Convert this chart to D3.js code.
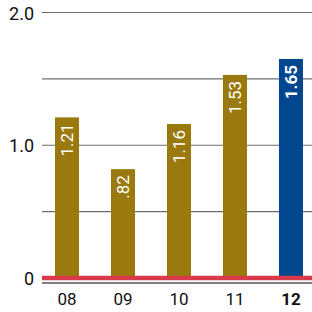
<!DOCTYPE html>
<html>
<head>
<meta charset="utf-8">
<script src="https://cdn.jsdelivr.net/npm/d3@7"></script>
<style>
  body { margin: 0; background: #fff; }
  text { font-family: Roboto, "Liberation Sans", Arial, sans-serif; }
</style>
</head>
<body>
<div id="chart"></div>
<script>
var years = ["08", "09", "10", "11", "12"];
var values = [1.21, 0.82, 1.16, 1.53, 1.65];
var valueLabels = ["1.21", ".82", "1.16", "1.53", "1.65"];
var yTicks = [0, 1, 2];
var yTickLabels = ["0", "1.0", "2.0"];
var gridValues = [0.5, 1, 1.5, 2];

var width = 312, height = 312;

var svg = d3.select("#chart").append("svg")
  .attr("width", width)
  .attr("height", height);

var x = d3.scaleBand().domain(years).range([39, 319])
  .paddingInner(0.571).paddingOuter(0.286);
var y = d3.scaleLinear().domain([0, 2]).range([278, 12.5]);

// gridlines
svg.selectAll(".grid")
  .data(gridValues)
  .enter().append("line")
  .attr("x1", 42).attr("x2", width)
  .attr("y1", function(d) { return y(d); })
  .attr("y2", function(d) { return y(d); })
  .attr("stroke", "#6e6e6e")
  .attr("stroke-width", 1.2);

// y labels
svg.selectAll(".ylab")
  .data(yTicks)
  .enter().append("text")
  .attr("x", 34)
  .attr("y", function(d) { return y(d); })
  .attr("dy", "0.4em")
  .attr("text-anchor", "end")
  .attr("font-size", 18)
  .attr("fill", "#111")
  .text(function(d, i) { return yTickLabels[i]; });

// bars
svg.selectAll(".bar")
  .data(values)
  .enter().append("rect")
  .attr("x", function(d, i) { return x(years[i]); })
  .attr("width", x.bandwidth())
  .attr("y", function(d) { return y(d); })
  .attr("height", function(d) { return y(0) - y(d); })
  .attr("fill", function(d, i) { return i == values.length - 1 ? "#00478f" : "#9a7a0e"; });

// value labels, rotated
svg.selectAll(".val")
  .data(values)
  .enter().append("text")
  .attr("transform", function(d, i) {
    var cx = x(years[i]) + x.bandwidth() / 2 + 6;
    return "translate(" + cx + "," + (y(d) + 6) + ") rotate(-90)";
  })
  .attr("text-anchor", "end")
  .attr("font-size", 17)
  .attr("font-weight", function(d, i) { return i == values.length - 1 ? "bold" : "normal"; })
  .attr("fill", "#fff")
  .text(function(d, i) { return valueLabels[i]; });

// baseline
svg.append("line")
  .attr("x1", 42).attr("x2", width)
  .attr("y1", y(0)).attr("y2", y(0))
  .attr("stroke", "#d93a4b")
  .attr("stroke-width", 4.5);

svg.append("line")
  .attr("x1", 42).attr("x2", width)
  .attr("y1", y(0) + 5).attr("y2", y(0) + 5)
  .attr("stroke", "#555")
  .attr("stroke-width", 1.5);

// x labels
svg.selectAll(".xlab")
  .data(years)
  .enter().append("text")
  .attr("x", function(d) { return x(d) + x.bandwidth() / 2; })
  .attr("y", 305)
  .attr("text-anchor", "middle")
  .attr("font-size", 17)
  .attr("font-weight", function(d, i) { return i == years.length - 1 ? "bold" : "normal"; })
  .attr("fill", "#111")
  .text(function(d) { return d; });
</script>
</body>
</html>
